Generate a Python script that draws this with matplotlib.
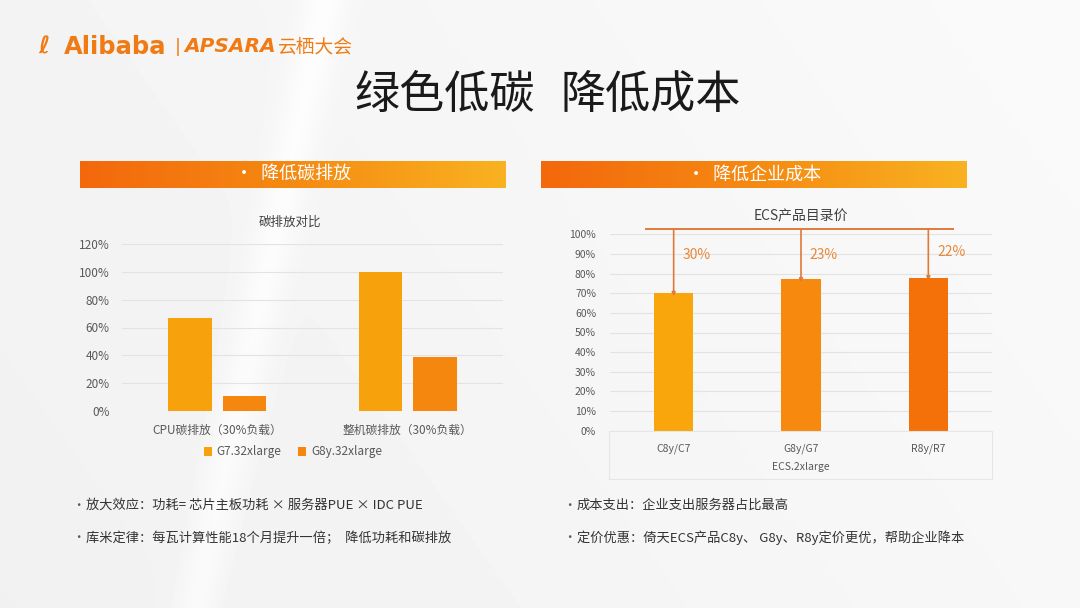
import matplotlib
matplotlib.use("Agg")
import matplotlib.pyplot as plt
from matplotlib.colors import LinearSegmentedColormap
import numpy as np

plt.rcParams['font.family'] = ['Noto Sans CJK SC', 'DejaVu Sans']

# left chart data
carbon_cats = ["CPU碳排放（30%负载）", "整机碳排放（30%负载）"]
carbon_series = ["G7.32xlarge", "G8y.32xlarge"]
carbon_g7 = [67, 100]
carbon_g8y = [11, 39]
carbon_ticks = [0, 20, 40, 60, 80, 100, 120]

# right chart data
price_cats = ["C8y/C7", "G8y/G7", "R8y/R7"]
price_vals = [70, 77, 78]
price_save = ["30%", "23%", "22%"]
price_ticks = list(range(0, 101, 10))

W, H = 1080, 608
fig = plt.figure(figsize=(W / 100, H / 100), dpi=100)
fig.patch.set_facecolor('#F3F3F3')


def px_axes(l, t, r, b, **kw):
    return fig.add_axes([l / W, 1 - b / H, (r - l) / W, (b - t) / H], **kw)


def fx(x):
    return x / W


def fy(y):
    return 1 - y / H


# background
bg = px_axes(0, 0, W, H, zorder=-10)
yy, xx = np.mgrid[0:1:120j, 0:1:200j]
shade = 0.945 + 0.025 * xx + 0.01 * (1 - yy)
streak = np.exp(-((xx - 0.30 + 0.12 * yy) / 0.02) ** 2) * 0.03
bg.imshow(np.clip(shade + streak, 0, 1), cmap='gray', vmin=0, vmax=1,
          aspect='auto', extent=[0, 1, 0, 1], interpolation='bicubic')
bg.axis('off')

orange = '#F07B14'
# logo
fig.text(fx(38), fy(47), "ℓ", color=orange, fontsize=17, style='italic',
         fontweight='bold', va='center', family='DejaVu Sans')
fig.text(fx(64), fy(47), "Alibaba", color=orange, fontsize=17.5, fontweight='bold',
         va='center', family='DejaVu Sans')
fig.text(fx(175), fy(47), "|", color=orange, fontsize=13, va='center', family='DejaVu Sans')
fig.text(fx(184), fy(47), "APSARA", color=orange, fontsize=14.5, fontweight='bold',
         style='italic', va='center', family='DejaVu Sans')
fig.text(fx(278), fy(47), "云栖大会", color=orange, fontsize=13.5, va='center')

# title
fig.text(fx(535), fy(95), "绿色低碳", color='#1A1A1A', fontsize=32.5,
         ha='right', va='center')
fig.text(fx(561), fy(95), "降低成本", color='#1A1A1A', fontsize=32.5,
         ha='left', va='center')

# banners
band = LinearSegmentedColormap.from_list('band', ['#F3680C', '#F58A12', '#F9B221'])
for (l, r, label) in [(80, 506, "•  降低碳排放"), (541, 967, "•  降低企业成本")]:
    bax = px_axes(l, 161, r, 188)
    bax.imshow(np.linspace(0, 1, 256)[None, :], cmap=band, aspect='auto',
               extent=[0, 1, 0, 1])
    bax.axis('off')
    bax.text(0.5, 0.48, label, color='white', fontsize=13, ha='center',
             va='center', transform=bax.transAxes)

grid_c = '#E3E3E3'
tick_c = '#595959'

# ---- left chart ----
ax1 = px_axes(122, 244, 503, 411)
x = np.arange(len(carbon_cats))
w = 0.228
ax1.bar(x - 0.143, carbon_g7, w, color='#F7A20C', label=carbon_series[0], zorder=3)
ax1.bar(x + 0.143, carbon_g8y, w, color='#F5870F', label=carbon_series[1], zorder=3)
ax1.set_xlim(-0.5, 1.5)
ax1.set_ylim(0, 120)
ax1.set_yticks(carbon_ticks)
ax1.set_yticklabels([f"{t}%" for t in carbon_ticks])
ax1.yaxis.grid(True, color=grid_c, lw=0.8, zorder=0)
ax1.set_xticks(x)
ax1.set_xticklabels(carbon_cats)
ax1.tick_params(axis='both', length=0, labelsize=8.5, labelcolor=tick_c)
ax1.tick_params(axis='y', pad=9)
ax1.tick_params(axis='x', pad=9)
ax1.patch.set_alpha(0)
for s in ax1.spines.values():
    s.set_visible(False)
ax1.text(0.44, 1.13, "碳排放对比", transform=ax1.transAxes, ha='center',
         va='center', fontsize=9, color='#404040')
ax1.legend(loc='center', bbox_to_anchor=(fx(293), fy(452)),
           bbox_transform=fig.transFigure, ncol=2, frameon=False, fontsize=8.5,
           handlelength=0.7, handleheight=0.7, handletextpad=0.4,
           columnspacing=1.4, labelcolor=tick_c)

# ---- right chart ----
ax2 = px_axes(610, 234.3, 992, 430.7)
x2 = np.arange(len(price_cats))
ax2.bar(x2, price_vals, 0.31, color=['#F9A50C', '#F7890E', '#F47008'], zorder=3)
ax2.set_xlim(-0.5, 2.5)
ax2.set_ylim(0, 100)
ax2.set_yticks(price_ticks)
ax2.set_yticklabels([f"{t}%" for t in price_ticks])
ax2.yaxis.grid(True, color=grid_c, lw=0.8, zorder=0)
ax2.set_xticks(x2)
ax2.set_xticklabels(price_cats)
ax2.tick_params(axis='both', length=0, labelsize=7.5, labelcolor=tick_c)
ax2.tick_params(axis='y', pad=10)
ax2.tick_params(axis='x', pad=9)
ax2.patch.set_alpha(0)
for s in ax2.spines.values():
    s.set_visible(False)
ax2.set_xlabel("ECS.2xlarge", fontsize=7.5, color=tick_c, labelpad=6)
ax2.set_title("ECS产品目录价", fontsize=10, color='#404040', pad=10)

line_c = '#E07A3A'
top = 102.7
ax2.plot([-0.22, 2.19], [top, top], color=line_c, lw=1.4, clip_on=False, zorder=4)
for i, v in enumerate(price_vals):
    ax2.annotate("", xy=(i, v - 1.5), xytext=(i, top), zorder=4,
                 arrowprops=dict(arrowstyle='-|>', color=line_c, lw=1.2,
                                 mutation_scale=5, shrinkA=0, shrinkB=0),
                 annotation_clip=False)
    ax2.text(i + 0.07, 89.3 if i < 2 else 90.8, price_save[i], color='#E8883A',
             fontsize=10, va='center', ha='left')

# light box under category axis
box_c = '#E6E6E6'
fig.add_artist(plt.Line2D([fx(609), fx(609)], [fy(431), fy(479)], color=box_c, lw=0.8))
fig.add_artist(plt.Line2D([fx(992), fx(992)], [fy(431), fy(479)], color=box_c, lw=0.8))
fig.add_artist(plt.Line2D([fx(609), fx(992)], [fy(479), fy(479)], color=box_c, lw=0.8))
fig.add_artist(plt.Line2D([fx(609), fx(992)], [fy(431), fy(431)], color=box_c, lw=0.8))

# bullets
bullets = [
    (72, 505, "放大效应：功耗= 芯片主板功耗 × 服务器PUE × IDC PUE"),
    (72, 538, "库米定律：每瓦计算性能18个月提升一倍；  降低功耗和碳排放"),
    (563, 505, "成本支出：企业支出服务器占比最高"),
    (563, 538, "定价优惠：倚天ECS产品C8y、 G8y、R8y定价更优，帮助企业降本"),
]
for bx, by, txt in bullets:
    fig.text(fx(bx), fy(by), "•", color='#555555', fontsize=9, va='center')
    fig.text(fx(bx + 14), fy(by), txt, color='#333333', fontsize=9.5, va='center')

fig.savefig("out.png", dpi=100, facecolor=fig.get_facecolor())
